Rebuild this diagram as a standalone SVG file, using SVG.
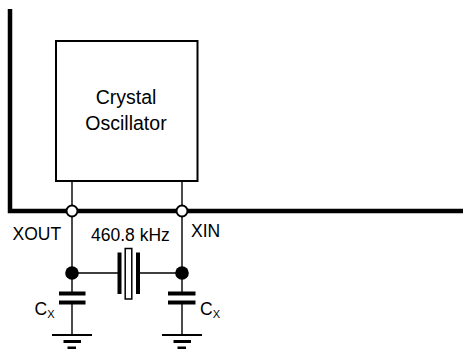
<svg xmlns="http://www.w3.org/2000/svg" width="463" height="349" viewBox="0 0 463 349">
<style>
.bus{stroke:#000;stroke-width:4.5;fill:none}
.w{stroke:#000;stroke-width:1.4;fill:none}
.plate{stroke:#000;stroke-width:4;fill:none}
.gnd{stroke:#000;fill:none}
.t{font-family:"Liberation Sans",Arial,sans-serif;fill:#000}
.pin{fill:#fff;stroke:#000;stroke-width:2}
.dot{fill:#000}
</style>
<rect width="463" height="349" fill="#fff"/>
<g id="connectors">
<path class="bus" d="M10,9 V211 H463"/>
<path class="w" d="M72,181 V293 M182,181 V293 M72,273 H119.5 M138,273 H182 M72,302.5 V335 M182,302.5 V335"/>
</g>
<g id="oscillator">
<rect x="56" y="41" width="141.5" height="140" fill="#fff" stroke="#000" stroke-width="2"/>
<text class="t" x="126" y="103.5" font-size="19.5" text-anchor="middle">Crystal</text>
<text class="t" x="126" y="129.5" font-size="19.5" text-anchor="middle">Oscillator</text>
</g>
<g id="xout">
<circle class="pin" cx="72" cy="211" r="5.5"/>
<text class="t" x="12.5" y="239.5" font-size="17.5">XOUT</text>
</g>
<g id="xin">
<circle class="pin" cx="182" cy="211" r="5.5"/>
<text class="t" x="191" y="236.5" font-size="17.5">XIN</text>
</g>
<g id="crystal">
<line class="plate" x1="119.5" y1="252.5" x2="119.5" y2="294"/>
<line class="plate" x1="138" y1="252.5" x2="138" y2="294"/>
<rect x="125.2" y="248.5" width="6.6" height="50.5" fill="#fff" stroke="#000" stroke-width="1.5"/>
<text class="t" x="91" y="240.5" font-size="17.5">460.8 kHz</text>
</g>
<g id="node-left">
<circle class="dot" cx="72" cy="273" r="6.8"/>
</g>
<g id="node-right">
<circle class="dot" cx="182" cy="273" r="6.8"/>
</g>
<g id="cap-left">
<line class="plate" x1="59" y1="293.5" x2="85.5" y2="293.5"/>
<line class="plate" x1="59" y1="302.5" x2="85.5" y2="302.5"/>
<text class="t" x="34.5" y="315" font-size="17.5">C<tspan font-size="11" dy="3.3">X</tspan></text>
</g>
<g id="cap-right">
<line class="plate" x1="168" y1="293.5" x2="195.5" y2="293.5"/>
<line class="plate" x1="168" y1="302.5" x2="195.5" y2="302.5"/>
<text class="t" x="200" y="315" font-size="17.5">C<tspan font-size="11" dy="3.3">X</tspan></text>
</g>
<g id="ground-left">
<line class="gnd" stroke-width="2" x1="52" y1="335" x2="92" y2="335"/>
<line class="gnd" stroke-width="3" x1="63.5" y1="341.5" x2="81" y2="341.5"/>
<line class="gnd" stroke-width="3" x1="67.5" y1="348" x2="76" y2="348"/>
</g>
<g id="ground-right">
<line class="gnd" stroke-width="2" x1="162" y1="335" x2="202" y2="335"/>
<line class="gnd" stroke-width="3" x1="173.5" y1="341.5" x2="191" y2="341.5"/>
<line class="gnd" stroke-width="3" x1="177.5" y1="348" x2="186" y2="348"/>
</g>
</svg>
